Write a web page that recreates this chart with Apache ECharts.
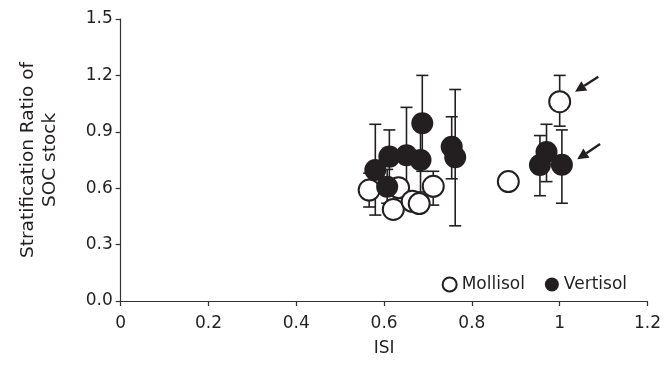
<!DOCTYPE html>
<html><head><meta charset="utf-8">
<script src="https://cdn.jsdelivr.net/npm/echarts@6/dist/echarts.min.js"></script>
<style>html,body{margin:0;padding:0;background:#fff}#c{width:664px;height:373px}</style>
</head><body><div id="c"></div>
<script>
// Mollisol (open circles)
const mollX    = [0.566, 0.621, 0.633, 0.664, 0.680, 0.712, 0.883, 1.000];
const mollY    = [0.590, 0.487, 0.603, 0.530, 0.518, 0.610, 0.635, 1.060];
const mollLow  = [0.500, null,  null,  null,  null,  0.510, null,  0.930];
const mollHigh = [0.680, null,  null,  null,  null,  0.690, null,  1.200];
// Vertisol (filled circles)
const vertX    = [0.580, 0.607, 0.612, 0.651, 0.683, 0.687, 0.754, 0.762, 0.955, 0.970, 1.005];
const vertY    = [0.697, 0.608, 0.768, 0.775, 0.750, 0.945, 0.820, 0.765, 0.723, 0.793, 0.725];
const vertLow  = [0.457, 0.520, 0.630, 0.520, 0.580, 0.690, 0.650, 0.400, 0.560, 0.635, 0.520];
const vertHigh = [0.940, 0.700, 0.910, 1.030, 0.920, 1.200, 0.980, 1.125, 0.880, 0.940, 0.910];
// Arrows (annotation, data coordinates): tail -> head
const arrows = [
  [[1.088, 1.193], [1.035, 1.113]],
  [[1.092, 0.835], [1.040, 0.754]]
];
const xTicks = [0, 0.2, 0.4, 0.6, 0.8, 1, 1.2];
const yTicks = [0, 0.3, 0.6, 0.9, 1.2, 1.5];

const INK = '#231f20';
const FONT = 'DejaVu Sans';

function errData(xs, lo, hi) {
  const out = [];
  xs.forEach((x, i) => { if (lo[i] != null) out.push([x, lo[i], hi[i]]); });
  return out;
}
const errAll = errData(mollX, mollLow, mollHigh).concat(errData(vertX, vertLow, vertHigh));

function renderErr(params, api) {
  const x = api.value(0), lo = api.value(1), hi = api.value(2);
  const pl = api.coord([x, lo]), ph = api.coord([x, hi]);
  const w = 6;
  const st = { stroke: INK, lineWidth: 1.6 };
  return { type: 'group', children: [
    { type: 'line', shape: { x1: pl[0], y1: pl[1], x2: ph[0], y2: ph[1] }, style: st },
    { type: 'line', shape: { x1: pl[0]-w, y1: pl[1], x2: pl[0]+w, y2: pl[1] }, style: st },
    { type: 'line', shape: { x1: ph[0]-w, y1: ph[1], x2: ph[0]+w, y2: ph[1] }, style: st }
  ]};
}

function renderArrow(params, api) {
  const t = api.coord([api.value(0), api.value(1)]);
  const h = api.coord([api.value(2), api.value(3)]);
  const dx = h[0] - t[0], dy = h[1] - t[1];
  const len = Math.sqrt(dx*dx + dy*dy), ux = dx/len, uy = dy/len;
  const hl = 11, hw = 5.5;
  const bx = h[0] - ux*hl, by = h[1] - uy*hl;
  return { type: 'group', children: [
    { type: 'line', shape: { x1: t[0], y1: t[1], x2: bx, y2: by }, style: { stroke: INK, lineWidth: 2.4 } },
    { type: 'polygon', shape: { points: [[h[0], h[1]], [bx - uy*hw, by + ux*hw], [bx + uy*hw, by - ux*hw]] }, style: { fill: INK } }
  ]};
}

const chart = echarts.init(document.getElementById('c'), null, { renderer: 'canvas' });
chart.setOption({
  animation: false,
  backgroundColor: '#fff',
  textStyle: { fontFamily: FONT, color: INK },
  grid: { left: 120.7, right: 15.7, top: 19, bottom: 72, containLabel: false },
  legend: {
    data: ['Mollisol', 'Vertisol'],
    right: 32, top: 271,
    icon: 'circle', itemWidth: 14, itemHeight: 14, itemGap: 20,
    textStyle: { fontFamily: FONT, fontSize: 17, color: INK }
  },
  xAxis: {
    type: 'value', min: 0, max: 1.2, interval: 0.2,
    name: 'ISI', nameLocation: 'middle', nameGap: 39,
    nameTextStyle: { fontFamily: FONT, fontSize: 17, color: INK },
    axisLine: { show: true, onZero: false, lineStyle: { color: '#333', width: 1.2 } },
    axisTick: { show: true, length: 5, lineStyle: { color: '#333', width: 1.2 } },
    axisLabel: { fontFamily: FONT, fontSize: 17, color: INK, margin: 14,
      formatter: v => { const t = xTicks.find(k => Math.abs(k - v) < 1e-9); return t === undefined ? '' : String(t); } },
    splitLine: { show: false }
  },
  yAxis: {
    type: 'value', min: 0, max: 1.5, interval: 0.3,
    name: 'Stratification Ratio of\nSOC stock', nameLocation: 'middle', nameGap: 60, nameRotate: 90,
    nameTextStyle: { fontFamily: FONT, fontSize: 18.5, color: INK, lineHeight: 22, align: 'center' },
    axisLine: { show: true, lineStyle: { color: '#333', width: 1.2 } },
    axisTick: { show: true, length: 5, lineStyle: { color: '#333', width: 1.2 } },
    axisLabel: { fontFamily: FONT, fontSize: 17, color: INK, margin: 8,
      formatter: v => { const t = yTicks.find(k => Math.abs(k - v) < 1e-9); return t === undefined ? '' : t.toFixed(1); } },
    splitLine: { show: false }
  },
  series: [
    {
      name: 'errors', type: 'custom', renderItem: renderErr, z: 1,
      data: errAll, encode: { x: 0, y: [1, 2] }, silent: true
    },
    {
      name: 'Mollisol', type: 'scatter', z: 2,
      symbol: 'circle', symbolSize: 21,
      itemStyle: { color: '#fff', borderColor: INK, borderWidth: 2, opacity: 1 },
      data: mollX.map((x, i) => [x, mollY[i]])
    },
    {
      name: 'Vertisol', type: 'scatter', z: 3,
      symbol: 'circle', symbolSize: 22,
      itemStyle: { color: INK, borderColor: INK, borderWidth: 0, opacity: 1 },
      data: vertX.map((x, i) => [x, vertY[i]])
    },
    {
      name: 'arrows', type: 'custom', renderItem: renderArrow, z: 4, silent: true,
      data: arrows.map(a => [a[0][0], a[0][1], a[1][0], a[1][1]]),
      encode: { x: [0, 2], y: [1, 3] }
    }
  ]
});
</script>
</body></html>
